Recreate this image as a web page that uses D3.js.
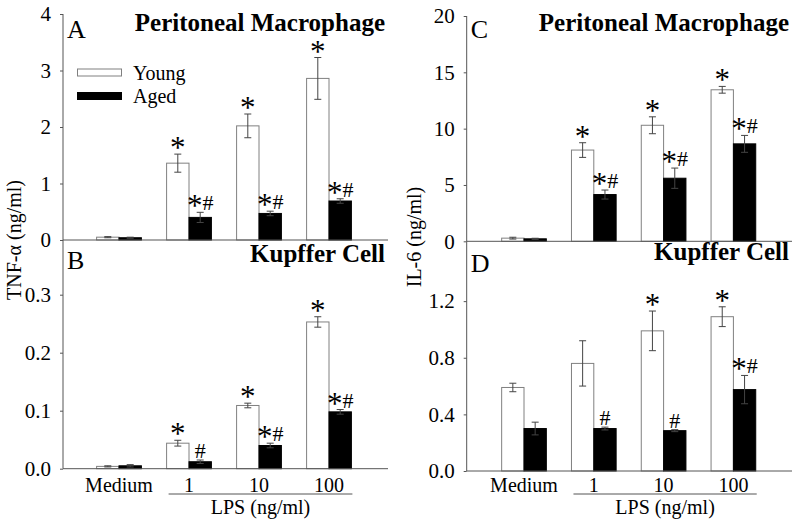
<!DOCTYPE html>
<html>
<head>
<meta charset="utf-8">
<script src="https://cdn.jsdelivr.net/npm/d3@7"></script>
<style>
  html, body { margin: 0; padding: 0; background: #fff; }
  svg { display: block; font-family: "Liberation Serif", "Times New Roman", serif; }
</style>
</head>
<body>
<div id="chart"></div>
<script>
// ---------------- DATA ----------------
const categories = ["Medium", "1", "10", "100"];
const seriesNames = ["Young", "Aged"];

// A: TNF-α, Peritoneal Macrophage (ng/ml)
const tnfPMYoung = [0.05, 1.36, 2.02, 2.86];
const tnfPMYoungErr = [0.01, 0.16, 0.21, 0.37];
const tnfPMAged = [0.04, 0.40, 0.47, 0.69];
const tnfPMAgedErr = [0.01, 0.09, 0.04, 0.04];

// B: TNF-α, Kupffer Cell (ng/ml)
const tnfKCYoung = [0.004, 0.044, 0.109, 0.253];
const tnfKCYoungErr = [0.001, 0.005, 0.004, 0.009];
const tnfKCAged = [0.005, 0.012, 0.040, 0.098];
const tnfKCAgedErr = [0.002, 0.003, 0.004, 0.004];

// C: IL-6, Peritoneal Macrophage (ng/ml)
const il6PMYoung = [0.28, 8.1, 10.3, 13.45];
const il6PMYoungErr = [0.08, 0.65, 0.75, 0.3];
const il6PMAged = [0.22, 4.15, 5.6, 8.65];
const il6PMAgedErr = [0.05, 0.4, 0.9, 0.75];

// D: IL-6, Kupffer Cell (ng/ml)
const il6KCYoung = [0.59, 0.76, 0.99, 1.09];
const il6KCYoungErr = [0.03, 0.16, 0.14, 0.07];
const il6KCAged = [0.30, 0.30, 0.285, 0.575];
const il6KCAgedErr = [0.045, 0.01, 0.007, 0.10];

// significance marks
const marksAYoung = ["", "*", "*", "*"];
const marksAAged  = ["", "*#", "*#", "*#"];
const marksBYoung = ["", "*", "*", "*"];
const marksBAged  = ["", "#", "*#", "*#"];
const marksCYoung = ["", "*", "*", "*"];
const marksCAged  = ["", "*#", "*#", "*#"];
const marksDYoung = ["", "", "*", "*"];
const marksDAged  = ["", "#", "#", "*#"];

// tick labels
const ticksA = [0, 1, 2, 3, 4];
const ticksB = [0.0, 0.1, 0.2, 0.3];
const ticksC = [0, 5, 10, 15, 20];
const ticksD = [0.0, 0.4, 0.8, 1.2];

const titleTop = "Peritoneal Macrophage";
const titleBottom = "Kupffer Cell";
const yLabelLeft = "TNF-α (ng/ml)";
const yLabelRight = "IL-6 (ng/ml)";
const xLabel = "LPS (ng/ml)";

// ---------------- DRAW ----------------
const W = 800, H = 525;
const svg = d3.select("#chart").append("svg").attr("width", W).attr("height", H);

const AXIS_COLOR = "#555";
const ERR_COLOR = "#444";
const YOUNG_STROKE = "#808080";

function drawPanel(cfg) {
  const g = svg.append("g");
  const y = d3.scaleLinear().domain([0, cfg.yMax]).range([cfg.yZero, cfg.yTopPx]);
  const x = d3.scaleBand().domain(categories).range(cfg.bandRange)
    .paddingInner(0.36).paddingOuter(0.18);
  const xs = d3.scaleBand().domain(seriesNames).range([0, x.bandwidth()]);

  // y axis
  const ay = g.append("g").attr("transform", `translate(${cfg.x0},0)`)
    .call(d3.axisLeft(y).tickValues(cfg.ticks).tickFormat(d3.format(cfg.fmt))
      .tickSize(3).tickPadding(9));
  ay.select(".domain").remove();
  ay.selectAll(".tick line").attr("stroke", AXIS_COLOR);
  ay.selectAll(".tick text").attr("font-family", "Liberation Serif").attr("font-size", 21)
    .attr("fill", "#000");
  g.append("line").attr("x1", cfg.x0).attr("x2", cfg.x0)
    .attr("y1", cfg.axisTop).attr("y2", cfg.yZero).attr("stroke", AXIS_COLOR);

  // bars
  const rows = categories.map((c, i) => ({
    c,
    vals: [
      { s: "Young", v: cfg.young[i], e: cfg.youngErr[i], m: cfg.marksYoung[i] },
      { s: "Aged", v: cfg.aged[i], e: cfg.agedErr[i], m: cfg.marksAged[i] }
    ]
  }));
  const grp = g.selectAll("g.grp").data(rows).join("g").attr("class", "grp")
    .attr("transform", d => `translate(${x(d.c)},0)`);
  const item = grp.selectAll("g.item").data(d => d.vals).join("g").attr("class", "item");
  item.append("rect")
    .attr("x", d => xs(d.s))
    .attr("width", xs.bandwidth())
    .attr("y", d => y(d.v))
    .attr("height", d => cfg.yZero - y(d.v))
    .attr("fill", d => d.s === "Young" ? "#fff" : "#000")
    .attr("stroke", d => d.s === "Young" ? YOUNG_STROKE : "#000")
    .attr("stroke-width", 1);
  // error bars
  const cx = d => xs(d.s) + xs.bandwidth() / 2;
  item.append("line").attr("x1", cx).attr("x2", cx)
    .attr("y1", d => y(d.v - d.e)).attr("y2", d => y(d.v + d.e))
    .attr("stroke", ERR_COLOR);
  item.append("line").attr("x1", d => cx(d) - 3.5).attr("x2", d => cx(d) + 3.5)
    .attr("y1", d => y(d.v + d.e)).attr("y2", d => y(d.v + d.e)).attr("stroke", ERR_COLOR);
  item.append("line").attr("x1", d => cx(d) - 3.5).attr("x2", d => cx(d) + 3.5)
    .attr("y1", d => y(d.v - d.e)).attr("y2", d => y(d.v - d.e)).attr("stroke", ERR_COLOR);

  // significance marks
  item.filter(d => d.m).each(function (d) {
    const t = d3.select(this).append("text")
      .attr("x", cx(d)).attr("y", y(d.v + d.e) - 2)
      .attr("text-anchor", "middle").attr("fill", "#000");
    let shifted = false;
    for (const ch of d.m) {
      if (ch === "*") {
        t.append("tspan").attr("font-size", 31).attr("dy", shifted ? 0 : 6).text("*");
        shifted = true;
      } else {
        t.append("tspan").attr("font-size", 22).attr("dy", shifted ? -6 : 0).text(ch);
        shifted = false;
      }
    }
  });

  // x axis line
  g.append("line").attr("x1", cfg.x0).attr("x2", cfg.x1)
    .attr("y1", cfg.yZero).attr("y2", cfg.yZero).attr("stroke", AXIS_COLOR);

  // title & panel letter
  g.append("text").attr("x", cfg.x1 - 3).attr("y", cfg.titleY).attr("text-anchor", "end")
    .attr("font-weight", "bold").attr("font-size", 25).text(cfg.title);
  g.append("text").attr("x", cfg.x0 + 4).attr("y", cfg.letterY)
    .attr("font-size", 26).text(cfg.letter);

  if (cfg.bottom) {
    const ax = g.append("g").attr("transform", `translate(0,${cfg.yZero})`)
      .call(d3.axisBottom(x).tickSize(0).tickPadding(0));
    ax.select(".domain").remove();
    ax.selectAll(".tick text").attr("font-family", "Liberation Serif").attr("font-size", 20)
      .attr("fill", "#000").attr("dy", null).attr("y", 492 - cfg.yZero);
    const lx1 = x("1") + 2, lx2 = x("100") + x.bandwidth() + 1;
    g.append("line").attr("x1", lx1).attr("x2", lx2).attr("y1", 494).attr("y2", 494)
      .attr("stroke", AXIS_COLOR);
    g.append("text").attr("x", (lx1 + lx2) / 2).attr("y", 514).attr("text-anchor", "middle")
      .attr("font-size", 20).text(xLabel);
  }
  return { x, y };
}

// Panel A
drawPanel({
  x0: 63, x1: 388, yZero: 240, yTopPx: 14, yMax: 4, axisTop: 14,
  bandRange: [84, 364], ticks: ticksA, fmt: "d",
  young: tnfPMYoung, youngErr: tnfPMYoungErr, aged: tnfPMAged, agedErr: tnfPMAgedErr,
  marksYoung: marksAYoung, marksAged: marksAAged,
  title: titleTop, titleY: 31, letter: "A", letterY: 38, bottom: false
});
// Panel B
drawPanel({
  x0: 63, x1: 388, yZero: 468.7, yTopPx: 236.7, yMax: 0.4, axisTop: 240,
  bandRange: [84, 364], ticks: ticksB, fmt: ".1f",
  young: tnfKCYoung, youngErr: tnfKCYoungErr, aged: tnfKCAged, agedErr: tnfKCAgedErr,
  marksYoung: marksBYoung, marksAged: marksBAged,
  title: titleBottom, titleY: 262, letter: "B", letterY: 269, bottom: true
});
// Panel C
drawPanel({
  x0: 466.7, x1: 792, yZero: 241.3, yTopPx: 16, yMax: 20, axisTop: 16,
  bandRange: [489.1, 768.3], ticks: ticksC, fmt: "d",
  young: il6PMYoung, youngErr: il6PMYoungErr, aged: il6PMAged, agedErr: il6PMAgedErr,
  marksYoung: marksCYoung, marksAged: marksCAged,
  title: titleTop, titleY: 31, letter: "C", letterY: 38, bottom: false
});
// Panel D
drawPanel({
  x0: 466.7, x1: 792, yZero: 471, yTopPx: 244.5, yMax: 1.6, axisTop: 241.3,
  bandRange: [489.1, 768.3], ticks: ticksD, fmt: ".1f",
  young: il6KCYoung, youngErr: il6KCYoungErr, aged: il6KCAged, agedErr: il6KCAgedErr,
  marksYoung: marksDYoung, marksAged: marksDAged,
  title: titleBottom, titleY: 260, letter: "D", letterY: 272, bottom: true
});

// Legend (panel A)
const legend = svg.append("g");
const legendY = [72.5, 96];
seriesNames.forEach((s, i) => {
  legend.append("rect").attr("x", 77.5).attr("y", legendY[i] - 3.5).attr("width", 44).attr("height", 7)
    .attr("fill", i === 0 ? "#fff" : "#000").attr("stroke", i === 0 ? YOUNG_STROKE : "#000");
  legend.append("text").attr("x", 133).attr("y", legendY[i] + 7).attr("font-size", 20).text(s);
});

// Y axis labels
svg.append("text").attr("transform", "translate(21,240) rotate(-90)")
  .attr("text-anchor", "middle").attr("font-size", 20).text(yLabelLeft);
svg.append("text").attr("transform", "translate(421,237) rotate(-90)")
  .attr("text-anchor", "middle").attr("font-size", 20).text(yLabelRight);
</script>
</body>
</html>
